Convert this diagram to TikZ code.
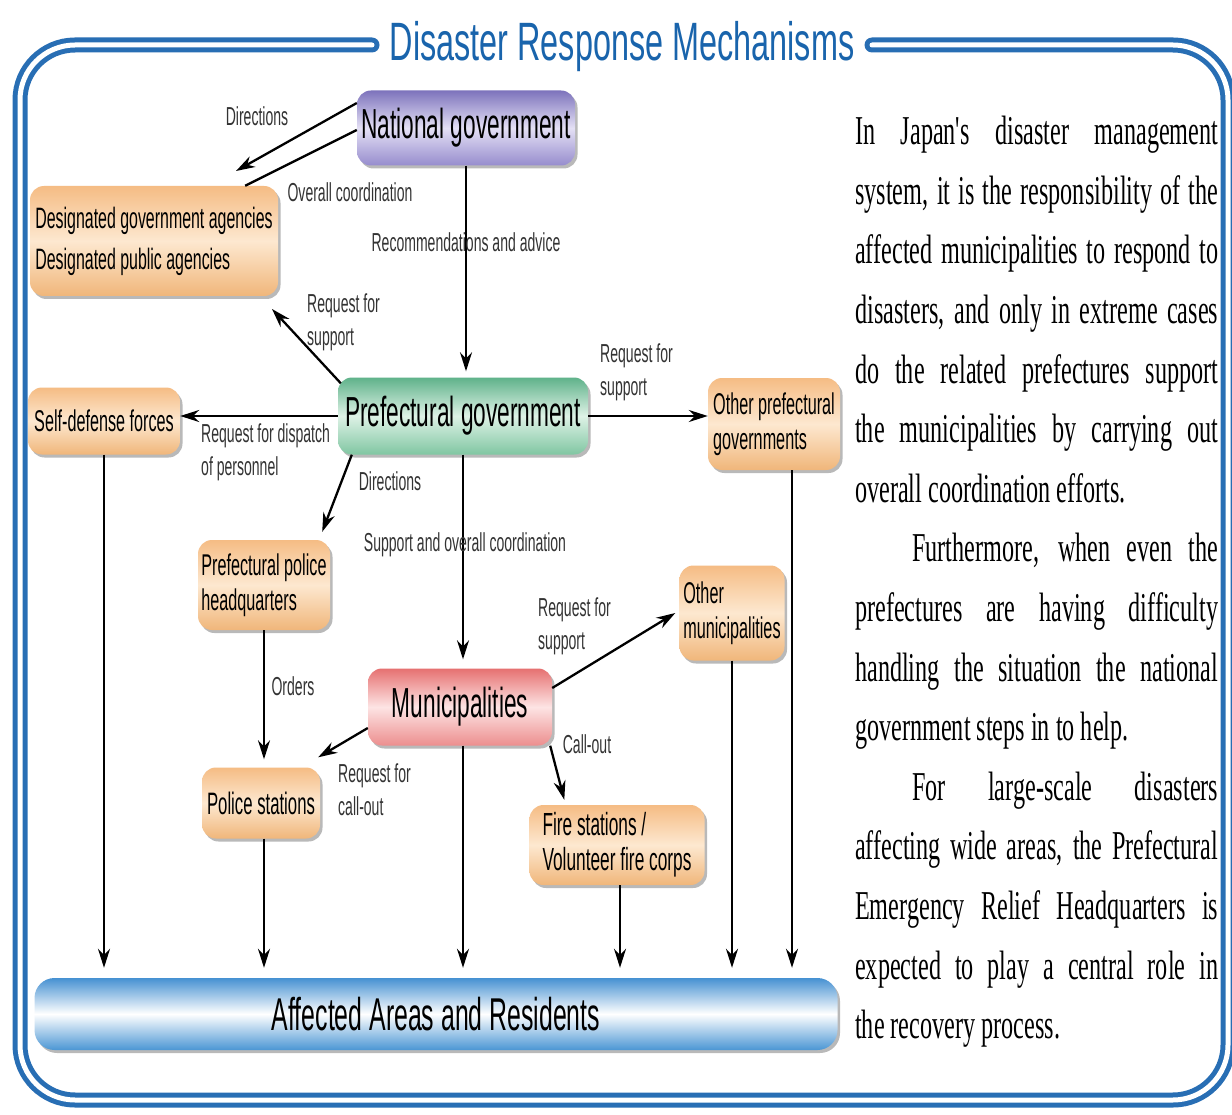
\documentclass[tikz,border=0pt]{standalone}
\usepackage{fontspec}
\setmainfont{Liberation Serif}
\newfontfamily\dsans[FakeStretch=0.54]{Liberation Sans}
\newfontfamily\tsans[FakeStretch=0.6]{Liberation Sans}
\newfontfamily\dserif[FakeStretch=0.59]{Liberation Serif}
\usetikzlibrary{arrows.meta,shadows,calc}
\definecolor{frameblue}{RGB}{40,110,180}
\definecolor{titleblue}{RGB}{25,100,172}
\definecolor{orgT}{RGB}{245,188,132}
\definecolor{orgM}{RGB}{253,232,208}
\definecolor{orgB}{RGB}{240,182,122}
\definecolor{purT}{RGB}{125,115,188}
\definecolor{purM}{RGB}{228,224,245}
\definecolor{purB}{RGB}{150,140,205}
\definecolor{grnT}{RGB}{95,178,138}
\definecolor{grnM}{RGB}{222,242,230}
\definecolor{grnB}{RGB}{128,198,162}
\definecolor{pnkT}{RGB}{230,112,112}
\definecolor{pnkM}{RGB}{253,228,228}
\definecolor{pnkB}{RGB}{236,142,142}
\definecolor{barT}{RGB}{70,145,210}
\definecolor{barB}{RGB}{75,150,212}
\newcommand\jl[1]{\makebox[363pt][s]{#1}}
\begin{document}
\begin{tikzpicture}[x=1pt,y=-1pt,
  box/.style={rounded corners=14pt, draw=none, align=left, inner sep=2pt,
    drop shadow={shadow xshift=2.5pt,shadow yshift=-3pt,fill=black!50,opacity=.55}},
  orbox/.style={box, top color=orgT, bottom color=orgB, middle color=orgM,
    font=\dsans\fontsize{30}{35}\selectfont},
  bigbox/.style={box, font=\dsans\fontsize{42}{44}\selectfont},
  lbl/.style={font=\dsans\fontsize{26}{33}\selectfont, text=black!80, inner sep=0pt, align=left},
  arr/.style={line width=2.3pt, -{Stealth[length=19pt,width=12pt]}},
  conn/.style={line width=2.3pt},
  title/.style={font=\tsans\fontsize{54}{56}\selectfont, text=titleblue, inner sep=0pt}
]
\useasboundingbox (0,0) rectangle (1232,1115);
\fill[white] (0,0) rectangle (1232,1115);
% frame
\draw[frameblue, line width=15pt, rounded corners=55pt, line cap=round]
  (372,45) -- (20,45) -- (20,1100) -- (1228,1100) -- (1228,45) -- (872,45);
\draw[white, line width=5pt, rounded corners=55pt, line cap=round]
  (372,45) -- (20,45) -- (20,1100) -- (1228,1100) -- (1228,45) -- (872,45);
\node[title] (ttl) at (622,47) {Disaster Response Mechanisms};

% nodes
\node[bigbox, top color=purT, bottom color=purB, middle color=purM,
  minimum width=218pt, minimum height=75pt, align=center] (nat) at (466,128) {National government};
\node[orbox, minimum width=248pt, minimum height=110pt, font=\dsans\fontsize{29.5}{41}\selectfont] (desig) at (154,241)
  {Designated government agencies\\Designated public agencies};
\node[orbox, minimum width=152pt, minimum height=67pt] (sdf) at (104,421) {Self-defense forces};
\node[bigbox, top color=grnT, bottom color=grnB, middle color=grnM,
  minimum width=250pt, minimum height=77pt, align=center] (pref) at (463,416) {Prefectural government};
\node[orbox, minimum width=132pt, minimum height=92pt] (opref) at (774,424) {Other prefectural\\governments};
\node[orbox, minimum width=132pt, minimum height=90pt] (phq) at (264,585) {Prefectural police\\headquarters};
\node[orbox, minimum width=105pt, minimum height=95pt] (omun) at (732,613) {Other\\municipalities};
\node[bigbox, top color=pnkT, bottom color=pnkB, middle color=pnkM,
  minimum width=184pt, minimum height=77pt, align=center] (mun) at (460,707) {Municipalities};
\node[orbox, minimum width=118pt, minimum height=71pt, font=\dsans\fontsize{31}{35}\selectfont] (pst) at (261,803) {Police stations};
\node[orbox, minimum width=175pt, minimum height=80pt, font=\dsans\fontsize{32}{35}\selectfont] (fire) at (617,845)
  {Fire stations /\\Volunteer fire corps};
\node[box, rounded corners=20pt, top color=barT, bottom color=barB, middle color=white,
  minimum width=803pt, minimum height=72pt, align=center, font=\dsans\fontsize{46}{48}\selectfont] (aff) at (436,1014)
  {Affected Areas and Residents};

% free ends
\coordinate (dirTip) at (236,171);
\coordinate (reqTip) at (272,309);

% connectors
\draw[arr] ([yshift=25]nat.west) -- (dirTip);
\draw[conn] ([yshift=-2]nat.west) -- ([xshift=-33]desig.north east);
\draw[arr] (nat.south) -- ([yshift=6]nat.south |- pref.north);
\draw[arr] ([xshift=3,yshift=-6]pref.north west) -- (reqTip);
\draw[arr] (pref.west) -- (pref.west -| sdf.east);
\draw[arr] (pref.east) -- (pref.east -| opref.west);
\draw[arr] ([xshift=14]pref.south west) -- ([xshift=-8,yshift=8]phq.north east);
\draw[arr] (pref.south) -- ([yshift=9]pref.south |- mun.north);
\draw[arr] (phq.south) -- ([yshift=8]phq.south |- pst.north);
\draw[arr] ([yshift=-21]mun.west) -- ([xshift=-2,yshift=10]pst.north east);
\draw[arr] ([yshift=19]mun.east) -- ([xshift=-4]omun.west);
\draw[arr] ([xshift=-2]mun.south east) -- ([xshift=35,yshift=5]fire.north west);
\draw[arr] (sdf.south) -- ([yshift=10]sdf.south |- aff.north);
\draw[arr] ([xshift=3]pst.south) -- ([xshift=3,yshift=10]pst.south |- aff.north);
\draw[arr] ([xshift=3]mun.south) -- ([xshift=3,yshift=10]mun.south |- aff.north);
\draw[arr] ([xshift=3]fire.south) -- ([xshift=3,yshift=10]fire.south |- aff.north);
\draw[arr] (omun.south) -- ([yshift=10]omun.south |- aff.north);
\draw[arr] ([xshift=18]opref.south) -- ([xshift=18,yshift=10]opref.south |- aff.north);

% labels
\node[lbl] (lDir1) at (257,116) {Directions};
\node[lbl] (lOver) at (350,192) {Overall coordination};
\node[lbl] (lRec) at (466,242) {Recommendations and advice};
\node[lbl, anchor=west] (lReq1) at (307,322) {Request for\\support};
\node[lbl, anchor=west] (lDisp) at (201,452) {Request for dispatch\\of personnel};
\node[lbl, anchor=west] (lReq2) at (600,372) {Request for\\support};
\node[lbl] (lDir2) at (390,481) {Directions};
\node[lbl] (lSup) at (465,545) {Support and overall coordination};
\node[lbl] (lOrd) at (293,686) {Orders};
\node[lbl, anchor=west] (lReq3) at (538,626) {Request for\\support};
\node[lbl] (lCall) at (587,744) {Call-out};
\node[lbl, anchor=west] (lReq4) at (338,790) {Request for\\call-out};

% paragraph
\node[anchor=north west, inner sep=0pt, align=left, text=black,
  font=\dserif\fontsize{41}{59.6}\selectfont] (para) at (855,116) {%
\jl{In Japan's disaster management}\\
\jl{system, it is the responsibility of the}\\
\jl{affected municipalities to respond to}\\
\jl{disasters, and only in extreme cases}\\
\jl{do the related prefectures support}\\
\jl{the municipalities by carrying out}\\
overall coordination efforts.\\
\jl{\hspace*{57pt}Furthermore, when even the}\\
\jl{prefectures are having difficulty}\\
\jl{handling the situation the national}\\
government steps in to help.\\
\jl{\hspace*{57pt}For large-scale disasters}\\
\jl{affecting wide areas, the Prefectural}\\
\jl{Emergency Relief Headquarters is}\\
\jl{expected to play a central role in}\\
the recovery process.};
\end{tikzpicture}
\end{document}
